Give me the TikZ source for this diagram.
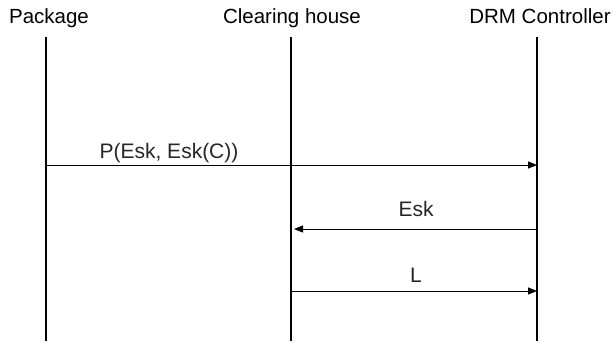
\documentclass[tikz,border=0pt]{standalone}
\usepackage{fontspec}
\setmainfont{Liberation Sans}
\usetikzlibrary{arrows.meta}
\begin{document}
\begin{tikzpicture}[x=1pt,y=-1pt,
  head/.style={anchor=base,inner sep=0pt,font=\fontsize{20.5}{24}\selectfont},
  msglabel/.style={anchor=base,inner sep=0pt,font=\fontsize{21}{24}\selectfont,text=black!85},
  lifeline/.style={line width=1.6pt},
  msg/.style={line width=0.9pt,-{Triangle[length=9pt,width=7pt]}}]
\useasboundingbox (0,0) rectangle (613,341);
% headers
\node[head] (pkg) at (49,23) {Package};
\node[head] (ch) at (292,23) {Clearing house};
\node[head] (drm) at (540,23) {DRM Controller};
% lifelines
\coordinate (pT) at (46,37);  \coordinate (pB) at (46,341);
\coordinate (cT) at (291,37); \coordinate (cB) at (291,341);
\coordinate (dT) at (537,37); \coordinate (dB) at (537,341);
\draw[lifeline] (pT) -- (pB);
\draw[lifeline] (cT) -- (cB);
\draw[lifeline] (dT) -- (dB);
% message endpoints
\coordinate (m1s) at (46,165);  \coordinate (m1e) at (537,165);
\coordinate (m2s) at (537,229); \coordinate (m2e) at (294,229);
\coordinate (m3s) at (291,291); \coordinate (m3e) at (537,291);
\draw[msg] (m1s) -- (m1e);
\draw[msg] (m2s) -- (m2e);
\draw[msg] (m3s) -- (m3e);
% labels
\node[msglabel] (l1) at (169,158) {P(Esk, Esk(C))};
\node[msglabel] (l2) at (416,216) {Esk};
\node[msglabel] (l3) at (416,282) {L};
\end{tikzpicture}
\end{document}
